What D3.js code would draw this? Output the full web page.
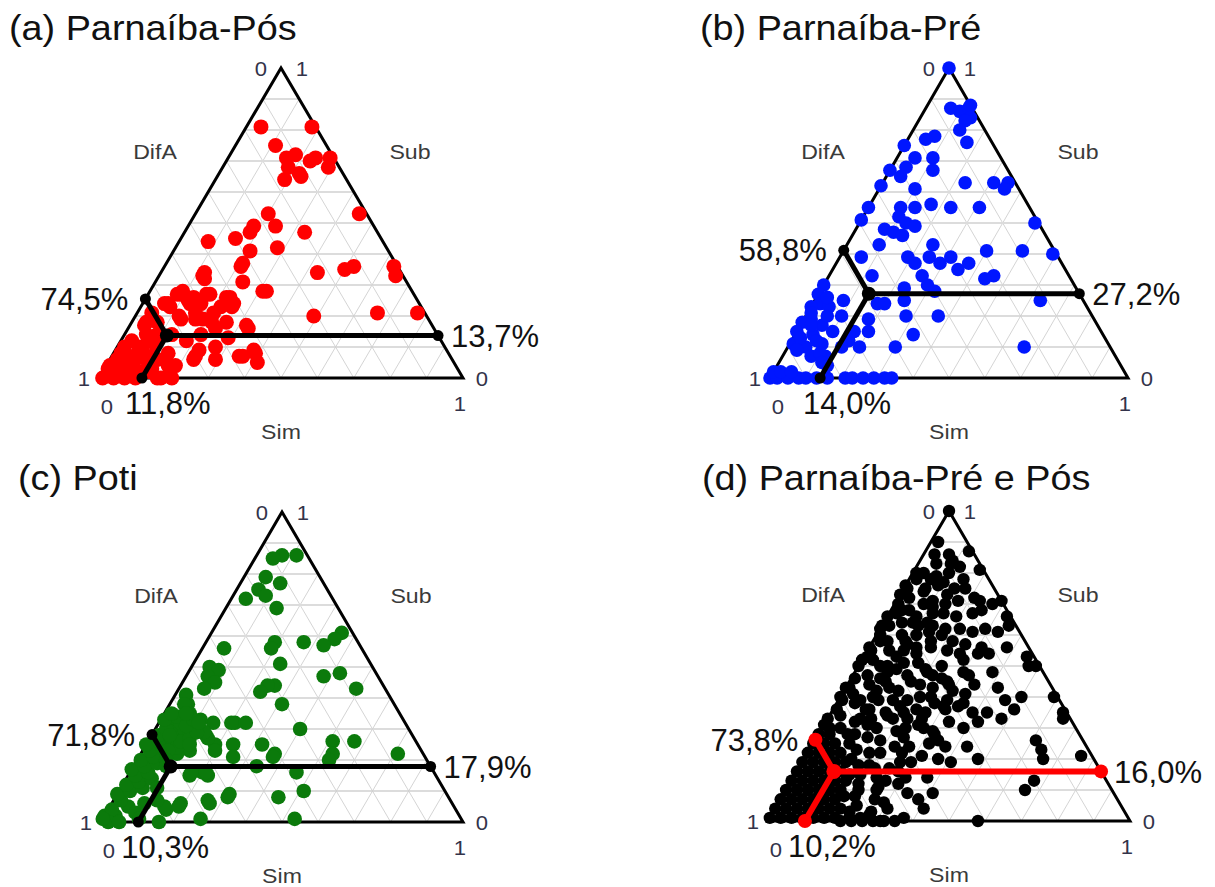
<!DOCTYPE html>
<html>
<head>
<meta charset="utf-8">
<script src="https://cdn.jsdelivr.net/npm/d3@7"></script>
<style>
  body { margin: 0; background: #fff; }
  svg { display: block; }
  text { font-family: "Liberation Sans", Arial, sans-serif; }
</style>
</head>
<body>
<svg id="chart" width="1215" height="887"></svg>
<script>
// Compositions are [DifA, Sub, Sim] in percent.
const axisNames = ["DifA", "Sub", "Sim"];
const tickLabels = ["0", "1"];
const panelTitles = ["(a) Parnaíba-Pós", "(b) Parnaíba-Pré", "(c) Poti", "(d) Parnaíba-Pré e Pós"];

const meanPos = [74.5, 13.7, 11.8];
const meanPre = [58.8, 27.2, 14.0];
const meanPoti = [71.8, 17.9, 10.3];
const meanAll = [73.8, 16.0, 10.2];

const posPoints = [
  [15,81,4],[1,81,18],[14,75,11],[10,72,18],[13,71,16],[7,70,23],[5,71,24],[1,71,28],[3,68,29],[14,68,18],
  [12,66,22],[17,64,19],[12,65,23],[27,53,20],[27,49,24],[2,53,45],[20,47,33],[33,49,18],[35,47,18],[40,45,15],
  [48,44,8],[30,42,28],[38,41,21],[43,36,21],[23,34,43],[15,35,50],[12,36,52],[1,36,63],[2,33,65],[54,34,12],
  [55,32,13],[45,31,24],[40,28,32],[56,27,17],[51,26,23],[65,27,8],[51,24,25],[60,24,16],[63,25,12],[69,24,7],
  [63,21,16],[58,21,21],[56,18,26],[31,20,49],[13,21,66],[2,21,77],[51,16,33],[75,21,4],[75,18,7],[68,19,13],
  [73,14,13],[80,14,6],[79,11,10],[68,9,23],[63,10,27],[71,6,23],[65,6,29],[57,7,36],[53,8,39],[54,5,41],
  [79,4,17],[81,6,13],[80,0,20],[84,8,8],[84,3,13],[95,4,1],[92,6,2],[96,0,4],[91,2,7],[89,4,7],
  [99,0,1],[90,8,2],[87,6,7],[84,10,6],[79,17,4],[76,19,5],[70,24,6],[63,28,9],[61,26,13],[90,0,10],
  [83,0,17],[77,8,15],[70,12,18],[65,14,21],[58,13,29],[62,19,19],[60,16,24],[55,33,12],[42,37,21],[41,28,31],
  [64,27,9],[57,27,16],[52,26,22],[69,23,8],[63,24,13],[55,23,22],[52,23,25],[68,20,12],[64,19,17],[60,18,22],
  [51,17,32],[78,18,4],[79,13,8],[83,10,7],[87,7,6],[79,6,15],[77,4,19],[70,7,23],[58,7,35],[53,9,38],
  [94,3,3],[97,1,2],[84,0,16],[80,1,19],[84,5,11],[96,1,3],[92,3,5],[88,2,10],[91,5,4],[93,1,6],
  [96,3,1],[82,7,11],[85,12,3],[88,10,2],[77,14,9],[93,0,7],[85,2,13]
];

const prePoints = [
  [0,100,0],[6,87,7],[4,86,10],[1,87,12],[0,88,12],[2,84,14],[4,83,13],[7,80,13],[7,76,17],[15,78,7],
  [18,77,5],[25,75,0],[24,71,5],[19,71,10],[21,67,12],[28,68,4],[33,67,0],[31,65,4],[38,62,0],[29,61,10],
  [14,63,23],[6,63,31],[2,63,35],[4,61,35],[36,55,9],[32,55,13],[27,56,17],[22,55,23],[14,55,31],[45,55,0],
  [49,51,0],[38,52,10],[37,50,13],[35,49,16],[44,48,8],[42,47,11],[40,46,14],[48,43,9],[1,50,49],[33,43,24],
  [19,41,40],[9,41,50],[1,40,59],[42,39,19],[41,37,22],[36,39,25],[34,37,29],[30,39,31],[30,35,35],[26,37,37],
  [21,33,46],[24,32,44],[55,39,6],[55,33,12],[41,33,26],[41,30,29],[40,28,32],[12,25,63],[50,25,25],[58,24,18],
  [56,24,20],[52,20,28],[43,20,37],[67,25,8],[63,19,18],[53,14,33],[65,15,20],[72,12,16],[70,10,20],[60,10,30],
  [24,10,66],[75,10,15],[70,30,0],[73,27,0],[74,24,2],[77,23,0],[72,23,5],[79,19,2],[82,18,0],[77,17,6],
  [85,15,0],[81,14,5],[75,15,10],[88,11,1],[85,10,5],[80,11,9],[85,7,8],[81,7,12],[70,20,10],[69,15,16],
  [48,29,23],[100,0,0],[98,0,2],[95,0,5],[92,0,8],[90,0,10],[87,0,13],[84,0,16],[79,0,21],[77,0,23],
  [74,0,26],[71,0,29],[68,0,32],[66,0,34],[98,2,0],[96,2,2],[93,2,5],[71,26,3],[78,21,1],[80,17,3],
  [85,13,2],[81,12,7],[88,9,3],[82,8,10],[83,5,12],[82,4,14],[74,20,6]
];

const potiPoints = [
  [7,86,7],[10,85,5],[3,86,11],[15,79,6],[12,77,11],[19,75,6],[18,73,9],[24,72,4],[17,69,14],[3,61,36],
  [6,59,35],[10,57,33],[15,58,27],[23,58,19],[25,56,19],[38,56,6],[45,50,5],[43,49,8],[47,47,6],[46,45,9],
  [50,43,7],[25,51,24],[15,47,38],[10,48,42],[8,43,49],[30,44,26],[32,44,24],[35,42,23],[31,38,31],[57,38,5],
  [58,35,7],[53,32,15],[47,32,21],[44,32,24],[30,30,40],[60,29,11],[57,28,15],[56,25,19],[51,25,24],[43,25,32],
  [23,26,51],[17,26,57],[25,22,53],[41,22,37],[53,21,26],[48,18,34],[27,20,53],[7,22,71],[38,16,46],[68,15,17],
  [64,16,20],[63,15,22],[60,9,31],[47,8,45],[39,10,51],[75,6,19],[67,7,26],[80,4,16],[72,1,27],[46,1,53],
  [56,41,3],[58,38,4],[48,32,20],[64,32,4],[64,27,9],[57,27,16],[64,23,13],[57,23,20],[42,21,37],[67,16,17],
  [63,16,21],[61,8,31],[76,5,19],[67,6,27],[80,5,15],[84,0,16],[98,2,0],[95,2,3],[95,4,1],[90,5,5],
  [91,7,2],[91,9,0],[87,10,3],[83,11,6],[87,12,1],[83,13,4],[79,14,7],[83,15,2],[79,16,5],[83,17,0],
  [79,18,3],[75,19,6],[79,20,1],[75,21,4],[71,22,7],[75,23,2],[71,24,5],[75,25,0],[71,26,3],[67,27,6],
  [70,28,2],[66,29,5],[62,30,8],[67,30,3],[62,32,6],[66,33,1],[62,34,4],[63,35,2],[89,3,8],[85,6,9],
  [89,1,10],[81,7,12],[79,11,10],[98,0,2],[95,0,5],[99,1,0],[60,30,10],[58,31,11],[61,29,10],[56,33,11],
  [57,29,14],[68,22,10],[67,24,9],[65,26,9],[62,27,11],[59,29,12],[61,31,8],[58,33,9],[63,25,12],[70,23,7],
  [67,28,5],[57,32,11],[59,35,6],[72,20,8],[73,18,9]
];

const allPoints = [
  [7,86,7],[8,83,9],[10,80,10],[6,82,12],[1,87,12],[1,81,18],[7,78,15],[17,80,3],[16,78,6],[15,76,9],
  [11,75,14],[8,75,17],[7,72,21],[6,71,23],[3,70,27],[12,71,17],[16,70,14],[19,71,10],[20,74,6],[24,75,1],
  [21,67,12],[18,67,15],[15,66,19],[10,67,23],[7,68,25],[0,71,29],[1,66,33],[2,63,35],[31,67,2],[29,68,3],
  [31,64,5],[28,64,8],[23,63,14],[20,62,18],[16,62,22],[13,61,26],[9,62,29],[6,61,33],[35,63,2],[38,62,0],
  [29,60,11],[38,58,4],[44,55,1],[35,55,10],[32,54,14],[27,56,17],[23,55,22],[20,54,26],[15,54,31],[12,54,34],
  [2,53,45],[3,50,47],[1,50,49],[48,52,0],[44,50,6],[43,48,9],[40,49,11],[38,47,15],[46,46,8],[45,43,12],
  [36,44,20],[33,43,24],[28,45,27],[21,47,32],[21,44,35],[15,43,42],[56,43,1],[55,39,6],[60,39,1],[51,40,9],
  [55,36,9],[46,39,15],[42,39,19],[38,40,22],[35,38,27],[31,39,30],[29,37,34],[26,35,39],[22,35,43],[14,36,50],
  [10,40,50],[1,40,59],[1,35,64],[2,33,65],[58,33,9],[55,30,15],[49,33,18],[47,30,23],[41,33,26],[40,28,32],
  [40,26,34],[39,24,37],[43,20,37],[40,19,41],[32,20,48],[13,26,61],[13,23,64],[14,20,66],[3,21,76],[20,13,67],
  [24,10,66],[42,0,58],[58,12,30],[57,9,34],[55,7,38],[49,14,37],[47,21,32],[49,24,27],[53,24,23],[58,22,20],
  [63,18,19],[58,17,25],[54,19,27],[70,10,20],[67,7,26],[65,4,31],[62,1,37],[74,1,25],[76,3,21],[75,8,17],
  [70,15,15],[64,23,13],[62,28,10],[63,34,3],[68,30,2],[34,32,34],[25,41,34],[39,35,26],[50,35,15],[41,36,23],
  [33,58,9],[22,60,18],[20,58,22],[17,57,26],[13,56,31],[6,56,38],[14,48,38],[15,39,46],[19,33,48],[26,32,42],
  [31,30,39],[50,9,41],[55,4,41],[69,0,31],[33,24,43],[55,14,31],[64,11,25],
  [73,5,22],[72,8,20],[69,12,19],[67,15,18],[66,18,16],[67,20,13],[65,25,10],[64,28,8],[65,30,5],[60,32,8],
  [59,27,14],[61,22,17],[70,3,27],[65,6,29],[65,10,25],[63,14,23],[62,17,21],[56,26,18],[50,29,21],[55,33,12],
  [54,36,10],[57,38,5],[56,41,3],[50,44,6],[49,47,4],[45,35,20],[43,31,26],[43,42,15],[45,45,10],[42,50,8],
  [45,52,3],[39,55,6],[40,58,2],[33,60,7],[27,63,10],[27,68,5],[22,70,8],[25,72,3],[19,75,6],[20,78,2],
  [12,83,5],[11,86,3],[8,90,2],[32,48,20],[33,51,16],[33,57,10],[35,40,25],[28,44,28],[33,37,30],[40,29,31],
  [57,31,12],[50,34,16],[45,37,18],[50,39,11],[49,42,9],[38,45,17],[31,47,22],[32,49,19],[37,51,12],[38,53,9],
  [31,56,13],[26,58,16],[25,61,14],[24,64,12],[26,66,8],[20,69,11],[14,73,13],[13,77,10],[14,79,7],[7,84,9],
  [29,46,25],[27,50,23],[20,52,28],[22,48,30],[28,42,30],[27,38,35],[33,36,31],[45,33,22],[42,30,28],[49,27,24],
  [43,25,32],[52,22,26],[51,19,30],[56,16,28],[61,13,26],
  [0,100,0],
  [67,33,0],[63,36,1],[60,40,0],[57,43,0],[53,46,1],[50,50,0],[46,53,1],[44,56,0],[39,60,1],[37,63,0],
  [34,66,0],[29,70,1],[27,73,0],[24,76,0],[19,80,1],
  [80,0,20],[77,0,23],[74,0,26],[71,0,29],[68,0,32],[65,0,35],[77,1,22],[71,2,27],
  [99,1,0],[96,1,3],[93,1,6],[90,1,9],[87,1,12],[84,1,15],[81,1,18],
  [96,4,0],[93,4,3],[90,4,6],[87,4,9],[84,4,12],[81,4,15],[78,4,18],
  [93,7,0],[90,7,3],[87,7,6],[84,7,9],[81,7,12],[78,7,15],
  [90,10,0],[87,10,3],[84,10,6],[81,10,9],[78,10,12],[75,10,15],
  [87,13,0],[84,13,3],[81,13,6],[78,13,9],[75,13,12],[72,13,15],
  [84,16,0],[81,16,3],[78,16,6],[75,16,9],[72,16,12],
  [81,19,0],[78,19,3],[75,19,6],[72,19,9],[69,19,12],
  [78,22,0],[75,22,3],[72,22,6],[69,22,9],
  [75,25,0],[72,25,3],[69,25,6],
  [72,28,0],[69,28,3],
  [69,31,0]
];

// Panel layout and styling
const panels = [
  { title: panelTitles[0], titleX: 9, titleY: 40, left: 99, right: 463, top: 68, bottom: 378,
    points: posPoints, mean: meanPos, color: "#ff0000", r: 7.5, meanColor: "#000", meanW: 5, endR: 5.5, centerR: 7 },
  { title: panelTitles[1], titleX: 700, titleY: 40, left: 770, right: 1128, top: 68, bottom: 378,
    points: prePoints, mean: meanPre, color: "#0016ff", r: 6.8, meanColor: "#000", meanW: 5, endR: 5.5, centerR: 7 },
  { title: panelTitles[2], titleX: 18, titleY: 490, left: 101, right: 463, top: 512, bottom: 822,
    points: potiPoints, mean: meanPoti, color: "#0b7a0b", r: 7.3, meanColor: "#000", meanW: 5, endR: 5.5, centerR: 7 },
  { title: panelTitles[3], titleX: 702, titleY: 490, left: 768, right: 1130, top: 511, bottom: 821,
    points: allPoints, mean: meanAll, color: "#000", r: 6.2, meanColor: "#ff0000", meanW: 6, endR: 7, centerR: 7.5 }
];

const svg = d3.select("#chart");
const pct = d3.formatLocale({ decimal: ",", thousands: ".", grouping: [3], currency: ["", ""] }).format(".1f");

// text drawn with a slight horizontal widening
function wideText(parent, x, y, s, opts) {
  const t = parent.append("text")
    .attr("transform", `translate(${x},${y}) scale(${opts.sx || 1},1)`)
    .attr("font-size", opts.size).attr("fill", opts.fill)
    .attr("text-anchor", opts.anchor || "start");
  if (opts.dy) t.attr("dy", opts.dy);
  return t.text(s);
}

function drawPanel(p) {
  const g = svg.append("g");
  const x = d3.scaleLinear().domain([0, 1]).range([p.left, p.right]);
  const y = d3.scaleLinear().domain([0, 1]).range([p.bottom, p.top]);
  // [DifA, Sub, Sim] -> screen position
  const pos = d => [x((d[2] + d[1] / 2) / 100), y(d[1] / 100)];
  const line = d3.line();

  // grid every 10%
  const levels = d3.range(10, 100, 10);
  const gridG = g.append("g").attr("fill", "none");
  levels.forEach(v => {
    gridG.append("path")
      .attr("d", line([pos([100 - v, v, 0]), pos([0, v, 100 - v])]))
      .attr("stroke", "#dcdcdc").attr("stroke-width", 2);
    gridG.append("path")
      .attr("d", line([pos([100 - v, 0, v]), pos([0, 100 - v, v])]))
      .attr("stroke", "#cfcfcf").attr("stroke-width", 0.9);
    gridG.append("path")
      .attr("d", line([pos([v, 0, 100 - v]), pos([v, 100 - v, 0])]))
      .attr("stroke", "#cfcfcf").attr("stroke-width", 0.9);
  });

  // triangle outline
  g.append("path")
    .attr("d", line([pos([100, 0, 0]), pos([0, 100, 0]), pos([0, 0, 100])]) + "Z")
    .attr("fill", "none").attr("stroke", "#000").attr("stroke-width", 3)
    .attr("stroke-linejoin", "miter");

  // observations
  g.append("g").selectAll("circle").data(p.points).join("circle")
    .attr("cx", d => pos(d)[0]).attr("cy", d => pos(d)[1])
    .attr("r", p.r).attr("fill", p.color);

  // mean composition with its three projections
  const m = p.mean;
  const c = pos(m);
  const leftP = pos([m[0], 100 - m[0], 0]);
  const rightP = pos([0, m[1], 100 - m[1]]);
  const bottomP = pos([100 - m[2], 0, m[2]]);
  const mg = g.append("g");
  [leftP, rightP, bottomP].forEach(e => {
    mg.append("path").attr("d", line([c, e]))
      .attr("stroke", p.meanColor).attr("stroke-width", p.meanW).attr("fill", "none");
  });
  [leftP, rightP, bottomP].forEach(e => {
    mg.append("circle").attr("cx", e[0]).attr("cy", e[1]).attr("r", p.endR).attr("fill", p.meanColor);
  });
  mg.append("circle").attr("cx", c[0]).attr("cy", c[1]).attr("r", p.centerR).attr("fill", p.meanColor);

  // percentage labels
  const lab = g.append("g");
  const labOpts = { size: 31, fill: "#111", dy: "0.36em" };
  wideText(lab, leftP[0] - 17, leftP[1], pct(m[0]) + "%", { ...labOpts, anchor: "end" });
  wideText(lab, rightP[0] + 13, rightP[1], pct(m[1]) + "%", labOpts);
  wideText(lab, bottomP[0] - 17, p.bottom + 36, pct(m[2]) + "%", { size: 31, fill: "#111" });

  // axis names
  const apexX = (p.left + p.right) / 2;
  const an = g.append("g");
  const anOpts = { size: 21, fill: "#3a3a3a", anchor: "middle", sx: 1.1 };
  wideText(an, apexX - 126, p.top + 91, axisNames[0], anOpts);
  wideText(an, apexX + 129, p.top + 91, axisNames[1], anOpts);
  wideText(an, apexX, p.bottom + 61, axisNames[2], anOpts);

  // corner ticks
  const tk = g.append("g");
  const tkOpts = { size: 21, fill: "#33334a", anchor: "middle", dy: "0.36em", sx: 1.05 };
  wideText(tk, apexX - 20, p.top, tickLabels[0], tkOpts);
  wideText(tk, apexX + 21, p.top, tickLabels[1], tkOpts);
  wideText(tk, p.left - 15, p.bottom, tickLabels[1], tkOpts);
  wideText(tk, p.left + 8, p.bottom + 28, tickLabels[0], tkOpts);
  wideText(tk, p.right + 19, p.bottom, tickLabels[0], tkOpts);
  wideText(tk, p.right - 3, p.bottom + 25, tickLabels[1], tkOpts);

  // title
  wideText(g, p.titleX, p.titleY, p.title, { size: 35, fill: "#111", sx: 1.08 });
}

panels.forEach(drawPanel);
</script>
</body>
</html>
